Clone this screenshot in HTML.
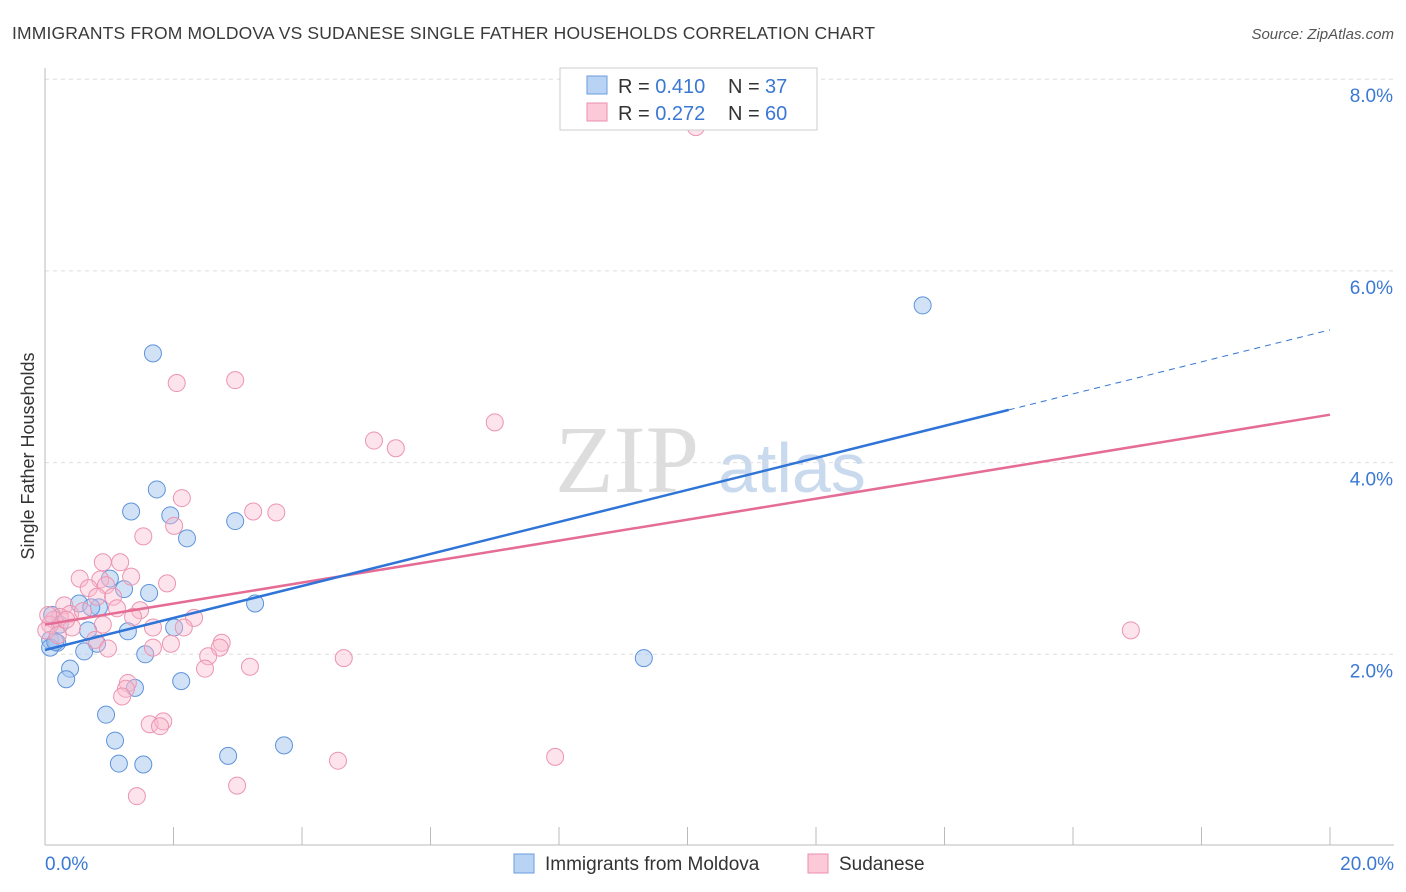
<!DOCTYPE html>
<html><head><meta charset="utf-8"><style>
body{margin:0;background:#fff;font-family:"Liberation Sans",sans-serif;}
svg{display:block}
</style></head><body>
<svg id="c" width="1406" height="892" xmlns="http://www.w3.org/2000/svg">
<text x="12" y="39" font-size="17.5" fill="#3a3a3a" letter-spacing="0.15">IMMIGRANTS FROM MOLDOVA VS SUDANESE SINGLE FATHER HOUSEHOLDS CORRELATION CHART</text>
<text x="1394" y="39" font-size="15" fill="#555" font-style="italic" text-anchor="end">Source: ZipAtlas.com</text>
<text transform="translate(34,456) rotate(-90)" font-size="18" fill="#333" text-anchor="middle">Single Father Households</text>
<text x="555" y="492" font-size="96" fill="#ddd" font-family="Liberation Serif,serif">ZIP</text>
<text x="718" y="492" font-size="70" fill="#c9d9ee">atlas</text>
<g id="grid"></g><g id="axes"></g><g id="pts"></g><g id="trend"></g>
<g>
<rect x="560" y="68" width="257" height="62" fill="#fff" stroke="#ccc"/>
<rect x="587" y="76" width="20" height="18" fill="#b8d3f3" stroke="#6b9de0"/>
<rect x="587" y="103" width="20" height="18" fill="#fbc9d8" stroke="#eb8fac"/>
<text x="618" y="93" font-size="20" fill="#333">R = <tspan fill="#3a78d4">0.410</tspan></text>
<text x="728" y="93" font-size="20" fill="#333">N = </text>
<text x="765" y="93" font-size="20" fill="#3a78d4">37</text>
<text x="618" y="120" font-size="20" fill="#333">R = <tspan fill="#3a78d4">0.272</tspan></text>
<text x="728" y="120" font-size="20" fill="#333">N = </text>
<text x="765" y="120" font-size="20" fill="#3a78d4">60</text>
</g>
<g>
<rect x="514" y="854" width="20" height="19" fill="#b8d3f3" stroke="#6b9de0"/>
<text x="545" y="870" font-size="19" fill="#333">Immigrants from Moldova</text>
<rect x="808" y="854" width="20" height="19" fill="#fbc9d8" stroke="#eb8fac"/>
<text x="839" y="870" font-size="19" fill="#333">Sudanese</text>
</g>
</svg>
<script>
const yTicks=[2,4,6,8];
const yTickLabels=["2.0%","4.0%","6.0%","8.0%"];
const xTickLabels=["0.0%","20.0%"];
const moldovaX=[1.68,13.66,1.74,1.34,1.95,2.96,2.21,1.01,1.23,1.62,0.53,0.84,0.72,3.27,0.11,0.23,1.29,2.01,0.67,0.08,0.19,0.81,0.61,1.56,9.32,0.39,0.33,2.12,1.40,0.95,1.09,2.85,3.72,1.15,1.53,0.08,0.16];
const moldovaY=[5.14,5.64,3.72,3.49,3.45,3.39,3.21,2.79,2.68,2.64,2.53,2.49,2.49,2.53,2.41,2.31,2.24,2.28,2.25,2.15,2.12,2.11,2.03,2.00,1.96,1.85,1.74,1.72,1.65,1.37,1.10,0.94,1.05,0.86,0.85,2.07,2.13];
const sudanX=[10.13,2.05,2.96,7.00,5.12,5.46,2.13,3.24,3.60,2.01,1.53,0.90,1.17,0.54,1.34,1.90,0.86,0.95,0.68,0.81,1.06,1.48,1.12,0.30,0.39,0.59,0.23,1.37,2.32,0.14,0.08,0.42,1.68,2.16,0.90,0.78,2.75,2.72,1.96,0.98,1.68,2.54,4.65,3.19,2.49,16.90,1.29,1.26,1.20,1.63,1.84,1.79,4.56,7.94,2.99,1.43,0.02,0.05,0.20,0.33];
const sudanY=[7.50,4.83,4.86,4.42,4.23,4.15,3.63,3.49,3.48,3.34,3.23,2.96,2.96,2.79,2.81,2.74,2.78,2.72,2.69,2.60,2.60,2.46,2.48,2.51,2.42,2.45,2.39,2.39,2.38,2.36,2.31,2.28,2.28,2.28,2.31,2.15,2.12,2.07,2.11,2.06,2.07,1.98,1.96,1.87,1.85,2.25,1.70,1.64,1.56,1.27,1.30,1.25,0.89,0.93,0.63,0.52,2.25,2.41,2.20,2.36];
const moldovaTrend=[2.045,0.167];
const sudanTrend=[2.31,0.1095];
const NS="http://www.w3.org/2000/svg";
const X0=45,X1=1330,Y0=846,PY=95.85;
const sx=v=>X0+(X1-X0)*v/20, sy=v=>Y0-v*PY;
function mk(tag,attrs,parent){const e=document.createElementNS(NS,tag);for(const k in attrs)e.setAttribute(k,attrs[k]);document.getElementById(parent).appendChild(e);return e;}
yTicks.forEach((t,i)=>{
 const l=mk('line',{x1:X0,x2:1394,y1:sy(t),y2:sy(t),stroke:'#ddd','stroke-dasharray':'4,4'},'grid');
 
 
 const tx=mk('text',{x:1393,y:sy(t)+23,'font-size':19,fill:'#3a78d4','text-anchor':'end'},'grid');
 tx.textContent=yTickLabels[i];
 
 
});
let a=mk('line',{x1:X0,x2:X0,y1:68,y2:845,stroke:'#bbb'},'axes');


a=mk('line',{x1:X0,x2:1394,y1:845,y2:845,stroke:'#bbb'},'axes');


for(let i=0;i<=10;i++){const tk=mk('line',{x1:sx(i*2),x2:sx(i*2),y1:827,y2:845,stroke:'#bbb'},'axes');
 
 }
[[0,45,'start'],[20,1394,'end']].forEach((d,i)=>{const t=mk('text',{x:d[1],y:870,'font-size':19,fill:'#3a78d4','text-anchor':d[2]},'axes');t.textContent=xTickLabels[i];
 
 });
moldovaX.forEach((x,i)=>{const c=mk('circle',{cx:sx(x),cy:sy(moldovaY[i]),r:8.5,fill:'rgba(164,198,240,0.5)',stroke:'#5e93db','stroke-width':1},'pts');
 
 });
sudanX.forEach((x,i)=>{const c=mk('circle',{cx:sx(x),cy:sy(sudanY[i]),r:8.5,fill:'rgba(249,186,205,0.4)',stroke:'#eb95b1','stroke-width':1},'pts');
 
 });
const f=(tr,x)=>tr[0]+tr[1]*x;
let t=mk('line',{x1:sx(0),y1:sy(f(sudanTrend,0)),x2:sx(20),y2:sy(f(sudanTrend,20)),stroke:'#e56c95','stroke-width':2.5},'trend');


t=mk('line',{x1:sx(0),y1:sy(f(moldovaTrend,0)),x2:sx(15),y2:sy(f(moldovaTrend,15)),stroke:'#2f74d6','stroke-width':2.5},'trend');


t=mk('line',{x1:sx(15),y1:sy(f(moldovaTrend,15)),x2:sx(20),y2:sy(f(moldovaTrend,20)),stroke:'#2f74d6','stroke-width':1,'stroke-dasharray':'6,5'},'trend');


</script>
</body></html>
